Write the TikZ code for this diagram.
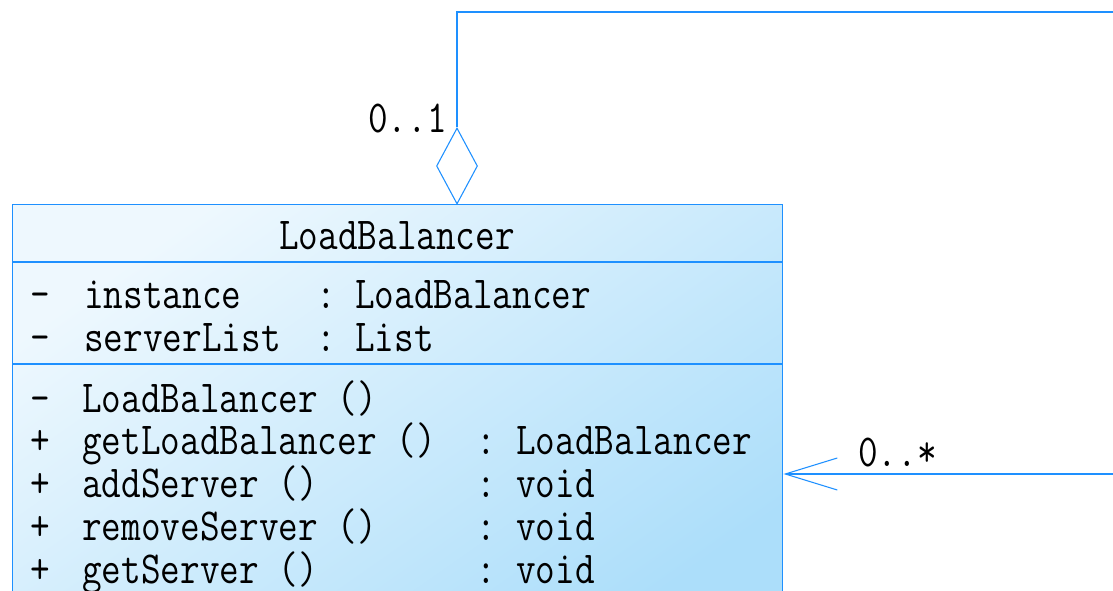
\documentclass[tikz,border=0pt]{standalone}
\usepackage{fontspec}
\usepackage{graphicx}
\usetikzlibrary{arrows.meta,shapes.geometric}
\definecolor{umlblue}{RGB}{30,144,255}
\definecolor{filltop}{RGB}{238,248,254}
\definecolor{fillbot}{RGB}{172,222,250}
\newcommand\vs[1]{\scalebox{1}[1.2]{#1}}
\tikzset{
  umltext/.style={inner sep=0pt, anchor=base west, font=\fontsize{28.6pt}{34pt}\selectfont\ttfamily},
  umlcenter/.style={umltext, anchor=base},
  conn/.style={draw=umlblue, line width=0.8pt},
  classbox/.style={draw=umlblue, line width=1.1pt, rectangle, inner sep=0pt,
    minimum width=577.5pt, minimum height=330pt,
    top color=filltop, bottom color=fillbot, shading angle=35},
  aggdiamond/.style={diamond, draw=umlblue, line width=0.8pt, fill=white, inner sep=0pt,
    minimum width=30.75pt, minimum height=57pt},
  divider/.style={draw=umlblue, line width=1pt}
}
\begin{document}
\begin{tikzpicture}[x=0.75pt,y=-0.75pt]
\useasboundingbox (0,0) rectangle (1113,591);
\clip (0,0) rectangle (1113,591);
\fill[white] (0,0) rectangle (1113,591);

% class box
\node[classbox, anchor=north west] (cls) at (12,204) {};
\coordinate (d1) at (0,262);
\coordinate (d2) at (0,364);
\draw[divider] (cls.west |- d1) -- (cls.east |- d1);
\draw[divider] (cls.west |- d2) -- (cls.east |- d2);

% title
\node[umlcenter] (title) at (397,250) {\vs{LoadBalancer}};

% attributes
\node[umltext] (a1v) at (30,309) {\vs{-}};
\node[umltext] (a1n) at (84,309) {\vs{instance}};
\node[umltext] (a1c) at (316,309) {\vs{:}};
\node[umltext] (a1t) at (355,309) {\vs{LoadBalancer}};
\node[umltext] (a2v) at (30,352) {\vs{-}};
\node[umltext] (a2n) at (84,352) {\vs{serverList}};
\node[umltext] (a2c) at (316,352) {\vs{:}};
\node[umltext] (a2t) at (355,352) {\vs{List}};

% methods
\node[umltext] (m1v) at (30,412) {\vs{-}};
\node[umltext] (m1n) at (82,412) {\vs{LoadBalancer ()}};
\node[umltext] (m2v) at (30,454) {\vs{+}};
\node[umltext] (m2n) at (82,454) {\vs{getLoadBalancer ()}};
\node[umltext] (m2c) at (476,454) {\vs{:}};
\node[umltext] (m2t) at (516,454) {\vs{LoadBalancer}};
\node[umltext] (m3v) at (30,497) {\vs{+}};
\node[umltext] (m3n) at (82,497) {\vs{addServer ()}};
\node[umltext] (m3c) at (476,497) {\vs{:}};
\node[umltext] (m3t) at (516,497) {\vs{void}};
\node[umltext] (m4v) at (30,540) {\vs{+}};
\node[umltext] (m4n) at (82,540) {\vs{removeServer ()}};
\node[umltext] (m4c) at (476,540) {\vs{:}};
\node[umltext] (m4t) at (516,540) {\vs{void}};
\node[umltext] (m5v) at (30,583) {\vs{+}};
\node[umltext] (m5n) at (82,583) {\vs{getServer ()}};
\node[umltext] (m5c) at (476,583) {\vs{:}};
\node[umltext] (m5t) at (516,583) {\vs{void}};

% aggregation (self association)
\node[aggdiamond] (agg) at (457,166) {};
\coordinate (topright) at (1125,12);
\draw[conn] (agg.north) |- (topright);
\node[umltext] (mult1) at (368,133) {\vs{0..1}};

% navigable association end
\coordinate (rightend) at (1125,474);
\draw[conn, -{Straight Barb[length=39pt,width=24pt]}] (rightend) -- (cls.east |- rightend);
\node[umltext] (mult2) at (858,466) {\vs{0..*}};
\end{tikzpicture}
\end{document}
